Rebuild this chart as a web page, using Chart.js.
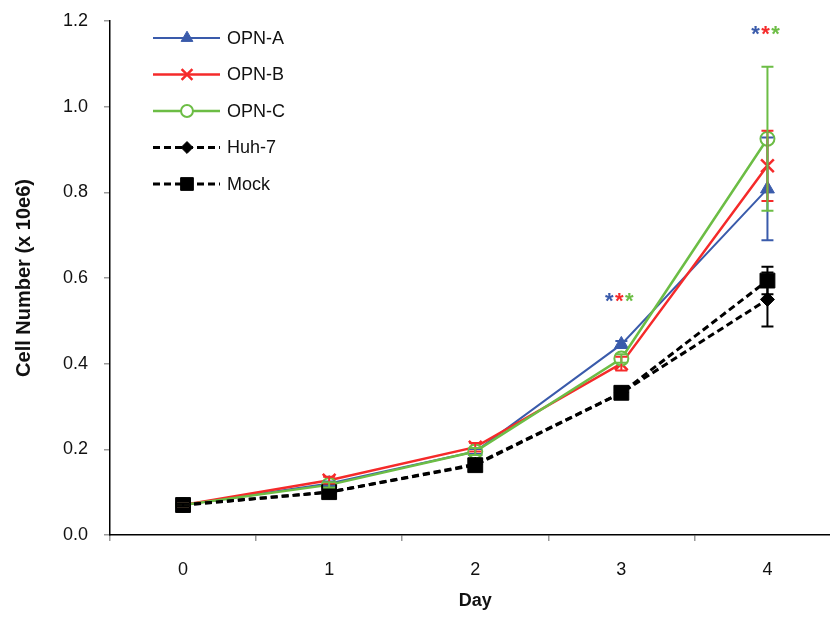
<!DOCTYPE html>
<html>
<head>
<meta charset="utf-8">
<script src="https://cdn.jsdelivr.net/npm/chart.js@4.4.0/dist/chart.umd.min.js"></script>
<style>
    html, body { margin: 0; padding: 0; background: #ffffff; overflow: hidden; }
    #wrap { width: 852px; height: 617px; }
</style>
</head>
<body>
<div id="wrap"><canvas id="growthChart" width="852" height="617"></canvas></div>
<script>
// values (cells x 10e6)
const days = ['0', '1', '2', '3', '4'];
const opnA = [0.07, 0.120, 0.195, 0.445, 0.808];
const opnB = [0.07, 0.128, 0.205, 0.400, 0.862];
const opnC = [0.07, 0.117, 0.195, 0.412, 0.925];
const huh7 = [0.07, 0.100, 0.165, 0.332, 0.550];
const mock = [0.07, 0.100, 0.163, 0.332, 0.594];

// error bar half-heights
const opnAErr = [0.003, 0.005, 0.006, 0.008, 0.120];
const opnBErr = [0.003, 0.008, 0.010, 0.016, 0.082];
const opnCErr = [0.003, 0.006, 0.008, 0.010, 0.168];
const huh7Err = [0.003, 0.004, 0.006, 0.008, 0.063];
const mockErr = [0.003, 0.004, 0.006, 0.008, 0.032];

const yTicks = [0, 0.2, 0.4, 0.6, 0.8, 1.0, 1.2];

// significance stars (day index, level)
const starDays = [3, 4];
const starLevels = [0.555, 1.18];

const FONT = "'Liberation Sans', Arial, sans-serif";
const BLUE = '#3a5bab';
const RED = '#f52a2a';
const GREEN = '#6cbd45';
const BLACK = '#000000';

const datasets = [
    { label: 'OPN-A', data: opnA, err: opnAErr, borderColor: BLUE, backgroundColor: BLUE,
      borderWidth: 2, pointStyle: 'triangle', pointRadius: 8, pointBorderWidth: 1, order: 4 },
    { label: 'OPN-B', data: opnB, err: opnBErr, borderColor: RED, backgroundColor: RED,
      borderWidth: 2.5, pointStyle: 'crossRot', pointRadius: 9, pointBorderWidth: 2.5, order: 3 },
    { label: 'OPN-C', data: opnC, err: opnCErr, borderColor: GREEN, backgroundColor: '#ffffff',
      borderWidth: 2.5, pointStyle: 'circle', pointRadius: 7, pointBorderWidth: 2, order: 2 },
    { label: 'Huh-7', data: huh7, err: huh7Err, borderColor: BLACK, backgroundColor: BLACK,
      borderWidth: 3, borderDash: [7, 4], pointStyle: 'rectRot', pointRadius: 7, pointBorderWidth: 1, order: 1 },
    { label: 'Mock', data: mock, err: mockErr, borderColor: BLACK, backgroundColor: BLACK,
      borderWidth: 3, borderDash: [7, 4], pointStyle: 'rect', pointRadius: 10.5, pointBorderWidth: 1, order: 0 }
];
datasets.forEach(ds => {
    ds.fill = false;
    ds.tension = 0;
    ds.pointBackgroundColor = ds.backgroundColor;
    ds.pointBorderColor = ds.borderColor;
});

const errorBars = {
    id: 'errorBars',
    afterDatasetsDraw(chart) {
        const ctx = chart.ctx;
        const x = chart.scales.x, y = chart.scales.y;
        ctx.save();
        chart.data.datasets.forEach(ds => {
            ctx.strokeStyle = ds.borderColor;
            ctx.lineWidth = 2;
            ctx.setLineDash([]);
            ds.data.forEach((v, i) => {
                const px = x.getPixelForValue(i);
                const top = y.getPixelForValue(v + ds.err[i]);
                const bot = y.getPixelForValue(v - ds.err[i]);
                ctx.beginPath();
                ctx.moveTo(px, top); ctx.lineTo(px, bot);
                ctx.moveTo(px - 6, top); ctx.lineTo(px + 6, top);
                ctx.moveTo(px - 6, bot); ctx.lineTo(px + 6, bot);
                ctx.stroke();
            });
        });
        ctx.restore();
    }
};

const stars = {
    id: 'stars',
    afterDatasetsDraw(chart) {
        const ctx = chart.ctx;
        const x = chart.scales.x, y = chart.scales.y;
        const colors = [BLUE, RED, GREEN];
        ctx.save();
        ctx.font = 'bold 22px ' + FONT;
        ctx.textAlign = 'center';
        ctx.textBaseline = 'middle';
        starDays.forEach((d, k) => {
            const cx = x.getPixelForValue(d);
            const cy = y.getPixelForValue(starLevels[k]) + 5;
            colors.forEach((c, j) => {
                ctx.fillStyle = c;
                ctx.fillText('*', cx + (j - 1) * 10 - 2, cy);
            });
        });
        ctx.restore();
    }
};

const lineLegend = {
    id: 'lineLegend',
    afterDraw(chart) {
        const ctx = chart.ctx;
        ctx.save();
        chart.data.datasets.forEach((ds, i) => {
            const cy = 38 + i * 36.5;
            ctx.strokeStyle = ds.borderColor;
            ctx.lineWidth = ds.borderWidth;
            ctx.setLineDash(ds.borderDash || []);
            ctx.beginPath();
            ctx.moveTo(153, cy); ctx.lineTo(220, cy);
            ctx.stroke();
            ctx.setLineDash([]);
            ctx.fillStyle = ds.pointBackgroundColor;
            ctx.strokeStyle = ds.pointBorderColor;
            ctx.lineWidth = ds.pointBorderWidth;
            Chart.helpers.drawPoint(ctx, {
                pointStyle: ds.pointStyle,
                radius: ds.pointStyle === 'rect' ? 9 : ds.pointRadius * 0.85,
                rotation: 0,
                borderWidth: ds.pointBorderWidth
            }, 187, cy);
            ctx.fillStyle = '#111';
            ctx.font = '18px ' + FONT;
            ctx.textAlign = 'left';
            ctx.textBaseline = 'middle';
            ctx.fillText(ds.label, 227, cy + 1);
        });
        ctx.restore();
    }
};

new Chart(document.getElementById('growthChart'), {
    type: 'line',
    data: { labels: days, datasets: datasets },
    options: {
        responsive: false,
        animation: false,
        layout: { padding: { top: 21, right: 0, bottom: 0, left: 0 } },
        plugins: {
            legend: { display: false },
            tooltip: { enabled: false }
        },
        scales: {
            x: {
                type: 'category',
                offset: true,
                grid: { offset: true, drawOnChartArea: false, drawTicks: true, tickLength: 6, color: '#9a9a9a', lineWidth: 1.5 },
                border: { display: true, color: '#000', width: 1.5 },
                ticks: { color: '#111', font: { family: FONT, size: 18 }, padding: 18, maxRotation: 0 },
                title: { display: true, text: 'Day', color: '#111', font: { family: FONT, size: 18, weight: 'bold' }, padding: { top: 0, bottom: 5 } },
                afterFit(s) { s.height = 82; s.paddingLeft = 0; s.paddingRight = 0; }
            },
            y: {
                min: 0,
                max: 1.2,
                afterBuildTicks(s) { s.ticks = yTicks.map(v => ({ value: v })); },
                grid: { drawOnChartArea: false, drawTicks: true, tickLength: 6, color: '#9a9a9a', lineWidth: 1.5 },
                border: { display: true, color: '#000', width: 1.5 },
                ticks: { color: '#111', font: { family: FONT, size: 18 }, padding: 16, callback: v => v.toFixed(1) },
                title: { display: true, text: 'Cell Number (x 10e6)', color: '#111', font: { family: FONT, size: 20, weight: 'bold' }, padding: { top: 12, bottom: 0 } },
                afterFit(s) { s.width = 110; s.paddingTop = 0; s.paddingBottom = 0; }
            }
        }
    },
    plugins: [errorBars, stars, lineLegend]
});
</script>
</body>
</html>
